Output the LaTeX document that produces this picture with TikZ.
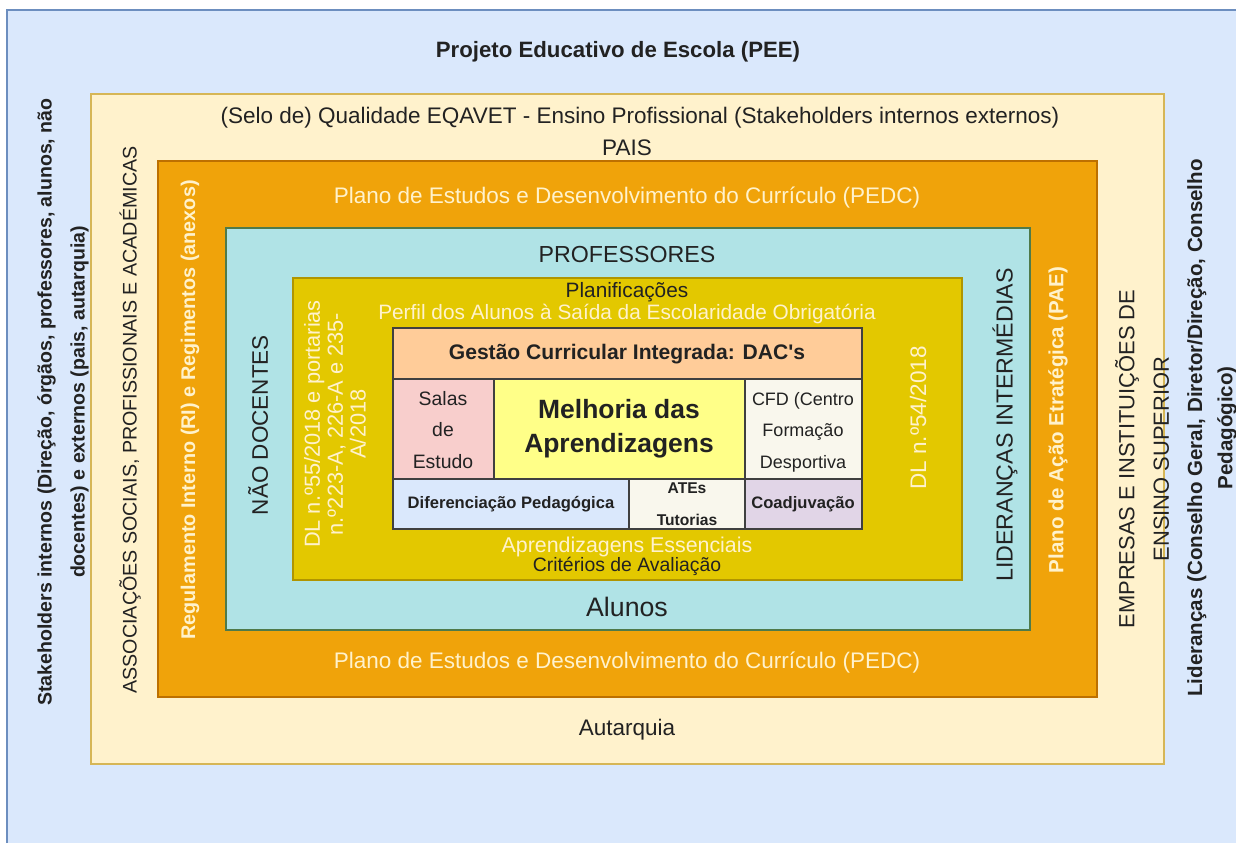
\documentclass[tikz,border=0pt]{standalone}
\usepackage{fontspec}
\setmainfont{Liberation Sans}
\definecolor{bgblue}{HTML}{DAE8FC}
\definecolor{bgline}{HTML}{6C8EBF}
\definecolor{cream}{HTML}{FFF2CC}
\definecolor{creamline}{HTML}{D6B656}
\definecolor{orangebox}{HTML}{F0A30A}
\definecolor{orangeline}{HTML}{BD7000}
\definecolor{tealbox}{HTML}{B0E3E6}
\definecolor{tealline}{HTML}{4F7A4A}
\definecolor{yellowbox}{HTML}{E3C800}
\definecolor{yellowline}{HTML}{B09500}
\definecolor{peach}{HTML}{FFCC99}
\definecolor{pinkcell}{HTML}{F8CECC}
\definecolor{lemon}{HTML}{FFFF88}
\definecolor{offwhite}{HTML}{F9F7ED}
\definecolor{lilac}{HTML}{E1D5E7}
\definecolor{lighttext}{HTML}{FFF2CC}
\definecolor{darktext}{HTML}{222222}

\begin{document}
\begin{tikzpicture}[x=0.025cm,y=-0.025cm,
  txt/.style={inner sep=0pt, align=center, text=darktext, font=\fontsize{16pt}{19pt}\selectfont},
  lighttxt/.style={txt, text=lighttext},
  side/.style={rotate=90},
  cell/.style={draw=black!75, line width=1pt}]
\useasboundingbox (0,0) rectangle (1236,843);

\fill[bgblue] (7,10) rectangle (1236,843);
\draw[bgline, line width=1pt] (7,843) -- (7,10) -- (1236,10);
\draw[fill=cream, draw=creamline, line width=0.8pt] (91,94) rectangle (1164,764);
\draw[fill=orangebox, draw=orangeline, line width=0.8pt] (158,161) rectangle (1097,697);
\draw[fill=tealbox, draw=tealline, line width=0.8pt] (226,228) rectangle (1030,630);
\draw[fill=yellowbox, draw=yellowline, line width=0.8pt] (293,278) rectangle (962,580);

% grelha central
\draw[cell, fill=peach] (393,328) rectangle (862,379);
\draw[cell, fill=pinkcell] (393,379) rectangle (494,479);
\draw[cell, fill=lemon] (494,379) rectangle (745,479);
\draw[cell, fill=offwhite] (745,379) rectangle (862,479);
\draw[cell, fill=bgblue] (393,479) rectangle (629,529);
\draw[cell, fill=offwhite] (629,479) rectangle (745,529);
\draw[cell, fill=lilac] (745,479) rectangle (862,529);

\node[txt, font=\bfseries\fontsize{15.8pt}{19pt}\selectfont] (title) at (618,52) {Projeto Educativo de Escola (PEE)};
\node[txt] (selo) at (640,118) {(Selo de) Qualidade EQAVET - Ensino Profissional (Stakeholders internos externos)};
\node[txt] (pais) at (627,148) {PAIS};
\node[lighttxt] (pedctop) at (627,198) {Plano de Estudos e Desenvolvimento do Currículo (PEDC)};
\node[lighttxt] (pedcbot) at (627,663) {Plano de Estudos e Desenvolvimento do Currículo (PEDC)};
\node[txt] (autarquia) at (627,730) {Autarquia};
\node[txt, font=\fontsize{16.5pt}{19pt}\selectfont] (profs) at (627,255) {PROFESSORES};
\node[txt, font=\fontsize{19pt}{22pt}\selectfont] (alunos) at (627,607) {Alunos};
\node[txt, font=\fontsize{14.8pt}{17pt}\selectfont] (planif) at (627,292) {Planificações};
\node[lighttxt, font=\fontsize{14.8pt}{17pt}\selectfont] (perfil) at (627,314) {Perfil dos Alunos à Saída da Escolaridade Obrigatória};
\node[lighttxt, font=\fontsize{15.2pt}{17pt}\selectfont] (aprend) at (627,547) {Aprendizagens Essenciais};
\node[txt, font=\fontsize{13.8pt}{16pt}\selectfont] (criterios) at (627,566) {Critérios de Avaliação};

\node[txt, font=\bfseries\fontsize{15pt}{18pt}\selectfont] (gestao) at (627,354) {Gestão Curricular Integrada: DAC\textquotesingle s};
\node[txt, font=\fontsize{13.8pt}{22.5pt}\selectfont] (salas) at (443,430) {Salas\\de\\Estudo};
\node[txt, font=\bfseries\fontsize{18.8pt}{24pt}\selectfont] (melhoria) at (619,429) {Melhoria das\\Aprendizagens};
\node[txt, font=\fontsize{12.8pt}{22.5pt}\selectfont] (cfd) at (803,432) {CFD (Centro\\Formação\\Desportiva};
\node[txt, font=\bfseries\fontsize{11.8pt}{14pt}\selectfont] (difer) at (511,504) {Diferenciação Pedagógica};
\node[txt, font=\bfseries\fontsize{11.1pt}{22.5pt}\selectfont] (ates) at (687,504) {ATEs\\Tutorias};
\node[txt, font=\bfseries\fontsize{11.8pt}{14pt}\selectfont] (coadj) at (803,504) {Coadjuvação};

% textos laterais
\node[txt, side, font=\bfseries\fontsize{13.9pt}{23.5pt}\selectfont] (stake) at (63,402) {Stakeholders internos (Direção, órgãos, professores, alunos, não\\docentes) e externos (pais, autarquia)};
\node[txt, side, font=\fontsize{14pt}{17pt}\selectfont] (assoc) at (130,420) {ASSOCIAÇÕES SOCIAIS, PROFISSIONAIS E ACADÉMICAS};
\node[lighttxt, side, font=\bfseries\fontsize{14.1pt}{17pt}\selectfont] (regul) at (190,410) {Regulamento Interno (RI) e Regimentos (anexos)};
\node[txt, side, font=\fontsize{16pt}{19pt}\selectfont] (naodoc) at (258,425) {NÃO DOCENTES};
\node[lighttxt, side, font=\fontsize{15.5pt}{16.3pt}\selectfont] (dlcinco) at (335,424) {DL n.º55/2018 e portarias\\n.º223-A, 226-A e 235-\\A/2018};
\node[lighttxt, side, font=\fontsize{16pt}{19pt}\selectfont] (dlquatro) at (918,418) {DL n.º54/2018};
\node[txt, side, font=\fontsize{16.5pt}{19pt}\selectfont] (lider) at (1005,425) {LIDERANÇAS INTERMÉDIAS};
\node[lighttxt, side, font=\bfseries\fontsize{14.6pt}{17pt}\selectfont] (pae) at (1058,420) {Plano de Ação Etratégica (PAE)};
\node[txt, side, font=\fontsize{15.6pt}{24.5pt}\selectfont] (empresas) at (1142,459) {EMPRESAS E INSTITUIÇÕES DE\\ENSINO SUPERIOR};
\node[txt, side, font=\bfseries\fontsize{14.6pt}{21.5pt}\selectfont] (lideres) at (1212,428) {Lideranças (Conselho Geral, Diretor/Direção, Conselho\\Pedagógico)};
\end{tikzpicture}
\end{document}
